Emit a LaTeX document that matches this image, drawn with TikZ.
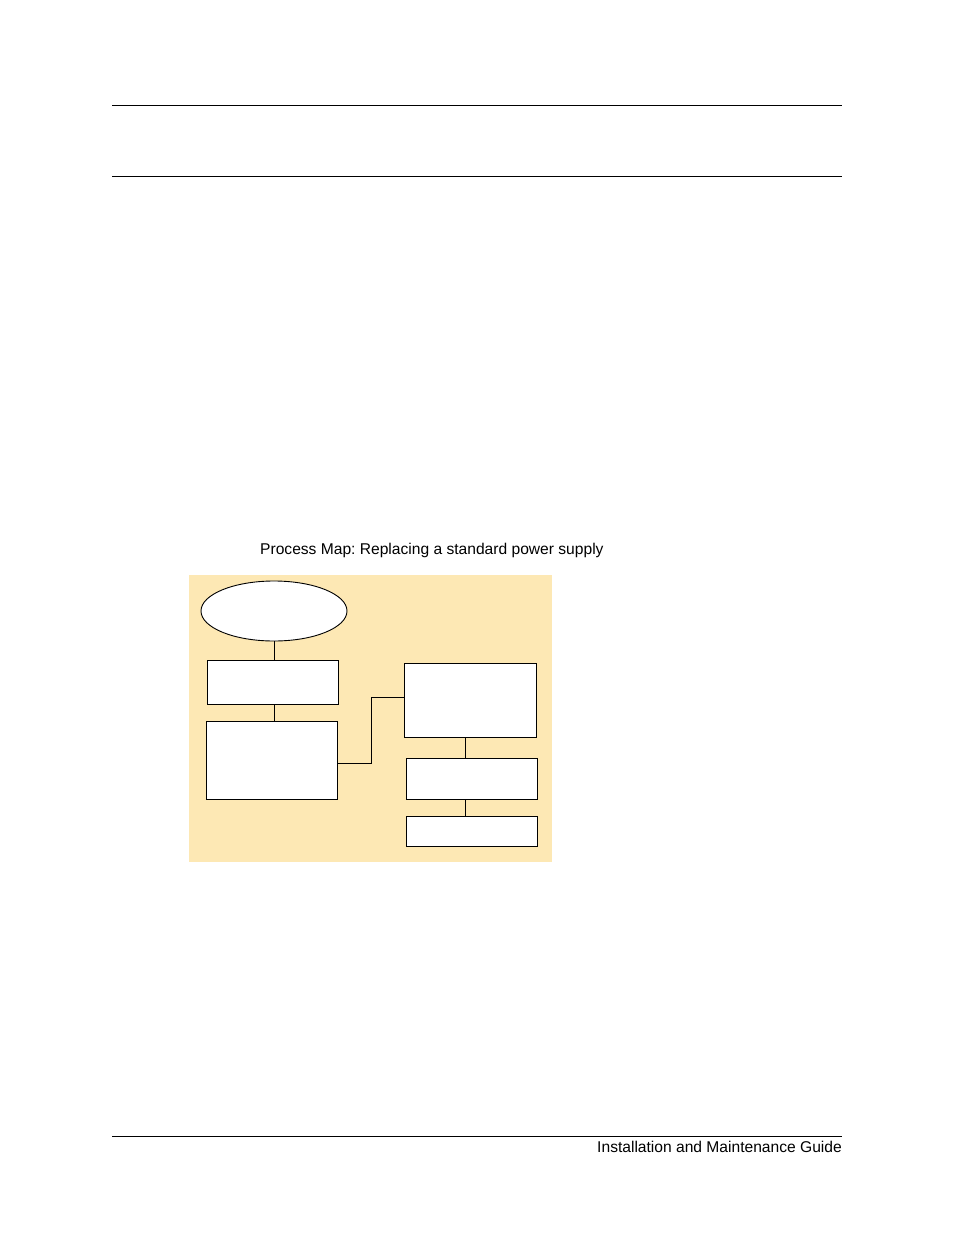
\documentclass[tikz,border=0pt]{standalone}
\usepackage{fontspec}
\setmainfont{Liberation Sans}
\usepackage{tikz}
\usetikzlibrary{shapes.geometric}
\definecolor{mapbg}{RGB}{253,232,180}
\frenchspacing

\tikzset{
  procbox/.style={draw, fill=white, line width=0.9pt, inner sep=0pt, outer sep=0pt},
  rule/.style={line width=0.9pt},
  link/.style={line width=0.9pt}
}

\begin{document}
\begin{tikzpicture}[x=1pt, y=-1pt, font=\fontsize{15.6}{18}\selectfont]
\useasboundingbox (0,0) rectangle (954,1235);
% page rules
\draw [rule] (112,105) -- (842,105);
\draw [rule] (112,176) -- (842,176);
\draw [rule] (112,1136) -- (842,1136);
\node [anchor=base east, inner sep=0pt] (guide) at (842,1152.5) {Installation and Maintenance Guide};
\node [anchor=base west, inner sep=0pt] (title) at (260,554.5) {Process Map: Replacing a standard power supply};
% map
\fill [mapbg] (189,575) rectangle (552,862);
\node [procbox, ellipse, minimum width=146pt, minimum height=60pt] (start) at (274,611) {};
\node [procbox, minimum width=131pt, minimum height=44pt] (b1) at (272.8,682.3) {};
\node [procbox, minimum width=131pt, minimum height=78pt] (b2) at (271.8,760.3) {};
\node [procbox, minimum width=132.4pt, minimum height=74pt] (b3) at (470.5,700.3) {};
\node [procbox, minimum width=131.4pt, minimum height=41pt] (b4) at (472,778.8) {};
\node [procbox, minimum width=131.4pt, minimum height=30pt] (b5) at (472,831.3) {};
\draw [link] (start.south) -- (start.south |- b1.north);
\draw [link] ([xshift=1.5pt]b1.south) -- ([xshift=1.5pt]b1.south |- b2.north);
\draw [link] ([yshift=-3pt]b2.east) -- ++(33.7,0) |- ([yshift=3.3pt]b3.west);
\draw [link] ([xshift=-4.8pt]b3.south) -- ([xshift=-4.8pt]b3.south |- b4.north);
\draw [link] ([xshift=-6.3pt]b4.south) -- ([xshift=-6.3pt]b4.south |- b5.north);
\end{tikzpicture}
\end{document}
